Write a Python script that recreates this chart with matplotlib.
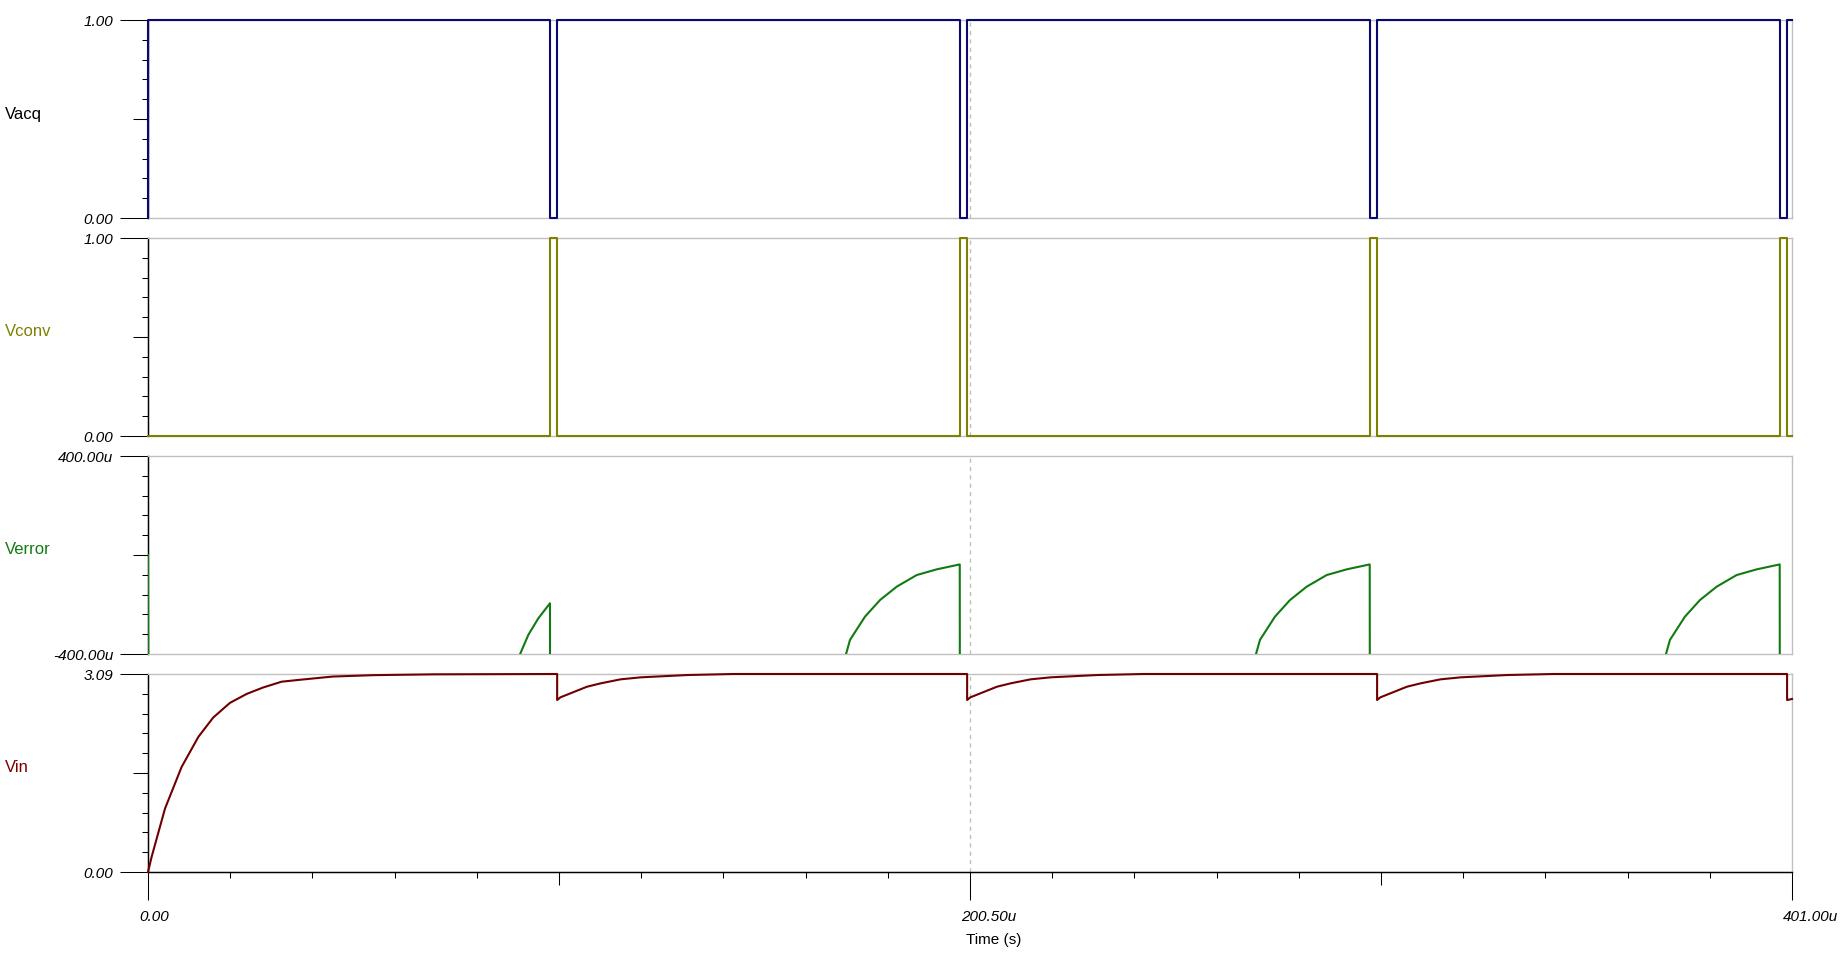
import numpy as np
import matplotlib
matplotlib.use("Agg")
from matplotlib import pyplot as plt
from matplotlib import transforms

plt.rcParams['font.family'] = ['Liberation Sans', 'DejaVu Sans']

# time in us
t_acq = [0, 0, 98.1, 98.1, 99.8, 99.8, 198.1, 198.1, 199.8, 199.8,
         298.1, 298.1, 299.8, 299.8, 398.1, 398.1, 399.8, 399.8, 401]
v_acq = [0, 1, 1, 0, 0, 1, 1, 0, 0, 1, 1, 0, 0, 1, 1, 0, 0, 1, 1]
v_conv = [0, 0, 0, 1, 1, 0, 0, 1, 1, 0, 0, 1, 1, 0, 0, 1, 1, 0, 0]

# Verror in uV (values below -400u are off scale)
t_err = [0, 0.3, 90.0,
         90.74, 92.76, 95.20, 98.05, 98.1,
         168.0, 170.25, 171.23, 174.89, 178.55, 182.62, 187.50, 192.38, 198.0, 198.1,
         268.0, 270.25, 271.23, 274.89, 278.55, 282.62, 287.50, 292.38, 298.0, 298.1,
         368.0, 370.25, 371.23, 374.89, 378.55, 382.62, 387.50, 392.38, 398.0, 398.1,
         401]
v_err = [0, -2000, -2000,
         -401, -323, -256, -195, -2000,
         -2000, -401, -343, -249, -182, -128, -81, -58, -38, -2000,
         -2000, -401, -343, -249, -182, -128, -81, -58, -38, -2000,
         -2000, -401, -343, -249, -182, -128, -81, -58, -38, -2000,
         -2000]

# Vin in V
t_in = [0, 0.9, 4.15, 8.2, 12.3, 15.9, 20.0, 24.1, 28.1, 32.6, 37.1, 45.0, 55.0, 70.0, 99.8,
        99.8, 100.6, 107.1, 110.4, 115.3, 120.2, 131.6, 142.7, 199.8,
        199.8, 200.6, 207.1, 210.4, 215.3, 220.2, 231.6, 242.7, 299.8,
        299.8, 300.6, 307.1, 310.4, 315.3, 320.2, 331.6, 342.7, 399.8,
        399.8, 401]
v_in = [0, 0.24, 0.99, 1.64, 2.11, 2.41, 2.64, 2.78, 2.88, 2.97, 3.00, 3.05, 3.072, 3.085, 3.09,
        2.684, 2.726, 2.892, 2.944, 3.007, 3.038, 3.074, 3.09, 3.09,
        2.684, 2.726, 2.892, 2.944, 3.007, 3.038, 3.074, 3.09, 3.09,
        2.684, 2.726, 2.892, 2.944, 3.007, 3.038, 3.074, 3.09, 3.09,
        2.684, 2.70]

names = ['Vacq', 'Vconv', 'Verror', 'Vin']
name_colors = ['#000000', '#808000', '#127a12', '#7a0000']
line_colors = ['#0a0a6e', '#808000', '#127a12', '#700000']
ylims = [(0, 1), (0, 1), (-400, 400), (0, 3.09)]
ylabels = [('0.00', '1.00'), ('0.00', '1.00'), ('-400.00u', '400.00u'), ('0.00', '3.09')]
series = [(t_acq, v_acq), (t_acq, v_conv), (t_err, v_err), (t_in, v_in)]

W, H = 1842, 958
fig = plt.figure(figsize=(W / 100, H / 100), dpi=100)
left_px, right_px = 148, 1792
tops = [20, 238, 456, 674]
ph = 198
gray = '#c0c0c0'

axes = []
for i in range(4):
    ax = fig.add_axes([left_px / W, 1 - (tops[i] + ph) / H, (right_px - left_px) / W, ph / H])
    axes.append(ax)
    lo, hi = ylims[i]
    t, v = series[i]
    clip = (i == 2)
    ax.plot(t, v, color=line_colors[i], lw=1.5, clip_on=clip, zorder=3)
    ax.axvline(200.5, color=gray, ls=(0, (3, 3)), lw=1, zorder=0)
    ax.set_xlim(0, 401)
    ax.set_ylim(lo, hi)

    for s in ['top', 'right', 'bottom']:
        ax.spines[s].set_color(gray)
        ax.spines[s].set_linewidth(1)
    ax.spines['left'].set_color('black')
    ax.spines['left'].set_linewidth(1)

    ax.set_yticks([lo, hi])
    ax.set_yticklabels(ylabels[i], fontstyle='italic', fontsize=11)
    ax.set_yticks(np.linspace(lo, hi, 11), minor=True)
    ax.tick_params(axis='y', which='major', length=20, width=0.75, pad=5)
    ax.tick_params(axis='y', which='minor', length=4.3, width=0.75)

    # the middle y tick is a bit longer
    mid = ax.secondary_yaxis('left')
    mid.set_yticks([(lo + hi) / 2])
    mid.set_yticklabels([''])
    mid.tick_params(length=10.8, width=0.75)
    mid.spines['left'].set_color('black')

    ax.set_xticks([])
    fig.text(5 / W, 1 - (tops[i] + ph / 2 - 5) / H, names[i], color=name_colors[i],
             fontsize=12, ha='left', va='center')

# x axis on the bottom panel
ax4 = axes[3]
ax4.spines['bottom'].set_color('black')
ax4.set_xticks([0, 200.5, 401])
ax4.set_xticklabels(['', '', ''])
ax4.set_xticks(np.linspace(0, 401, 21), minor=True)
ax4.tick_params(axis='x', which='major', length=20, width=0.75)
ax4.tick_params(axis='x', which='minor', length=4.3, width=0.75)
secx = ax4.secondary_xaxis('bottom')
secx.set_xticks([100.25, 300.75])
secx.set_xticklabels(['', ''])
secx.tick_params(length=9.4, width=0.75)
secx.spines['bottom'].set_color('black')

lbl_tr = transforms.offset_copy(ax4.get_xaxis_transform(), fig=fig, x=-9, y=-44.7, units='dots')
for xv, s in zip([0, 200.5, 401], ['0.00', '200.50u', '401.00u']):
    ax4.text(xv, 0, s, transform=lbl_tr, ha='left', va='center', fontstyle='italic', fontsize=11)

fig.text(994 / W, 1 - 940 / H, 'Time (s)', ha='center', va='center', fontsize=11)

fig.savefig('out.png', dpi=100, facecolor='white')
